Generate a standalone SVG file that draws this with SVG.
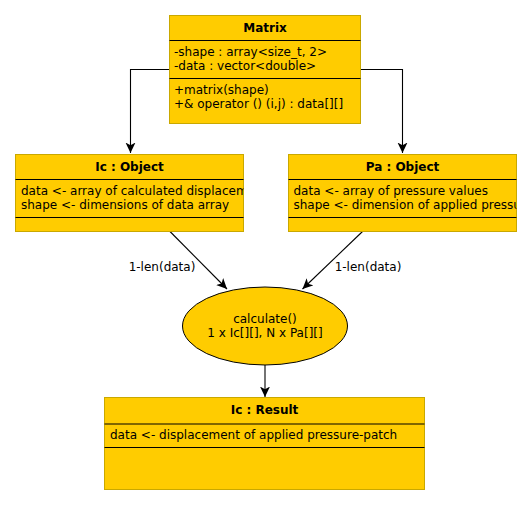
<svg xmlns="http://www.w3.org/2000/svg" width="532" height="505" viewBox="0 0 532 505">
<style>
.box{fill:#ffcc00;stroke:#c9a800;stroke-width:1}
.sep{stroke:#000;stroke-width:1}
text{font-family:"DejaVu Sans",sans-serif;font-size:12px;fill:#000}
.t{font-weight:bold;text-anchor:middle}
.c{text-anchor:middle}
.e{fill:none;stroke:#000;stroke-width:1.1}
</style>
<defs>
<marker id="arr" markerWidth="12" markerHeight="12" refX="10.5" refY="5" orient="auto" markerUnits="userSpaceOnUse">
<path d="M0,0 L10.5,5 L0,10 L2.8,5 Z" fill="#000"/>
</marker>
<clipPath id="clipIc"><rect x="15.5" y="154" width="228" height="77"/></clipPath>
<clipPath id="clipPa"><rect x="288.5" y="154" width="228" height="77"/></clipPath>
</defs>
<g id="connectors">
<path class="e" d="M170,69.5 H130.5 V153" marker-end="url(#arr)"/>
<path class="e" d="M360,69.5 H402.5 V153" marker-end="url(#arr)"/>
<path class="e" d="M170,231.5 L227,289" marker-end="url(#arr)"/>
<path class="e" d="M362.5,231.5 L302.5,289" marker-end="url(#arr)"/>
<path class="e" d="M265,365 V397" marker-end="url(#arr)"/>
<text x="162" y="271" class="c">1-len(data)</text>
<text x="368" y="271" class="c">1-len(data)</text>
</g>
<g id="matrix">
<rect class="box" x="169.5" y="15.5" width="191" height="108"/>
<line class="sep" x1="169.5" y1="40.5" x2="360.5" y2="40.5"/>
<line class="sep" x1="169.5" y1="78.5" x2="360.5" y2="78.5"/>
<text x="265" y="31.5" class="t">Matrix</text>
<text x="174" y="56">-shape : array&lt;size_t, 2&gt;</text>
<text x="174" y="69.5">-data : vector&lt;double&gt;</text>
<text x="174" y="93.5">+matrix(shape)</text>
<text x="174" y="107.5">+&amp; operator () (i,j) : data[][]</text>
</g>
<g id="ic-object">
<rect class="box" x="15.5" y="154.5" width="228" height="77"/>
<line class="sep" x1="15.5" y1="179.5" x2="243.5" y2="179.5"/>
<line class="sep" x1="15.5" y1="217.5" x2="243.5" y2="217.5"/>
<text x="129.5" y="171" class="t">Ic : Object</text>
<g clip-path="url(#clipIc)">
<text x="21" y="194.5">data &lt;- array of calculated displacements</text>
<text x="21" y="208.5">shape &lt;- dimensions of data array</text>
</g>
</g>
<g id="pa-object">
<rect class="box" x="288.5" y="154.5" width="228" height="77"/>
<line class="sep" x1="288.5" y1="179.5" x2="516.5" y2="179.5"/>
<line class="sep" x1="288.5" y1="217.5" x2="516.5" y2="217.5"/>
<text x="402.5" y="171" class="t">Pa : Object</text>
<g clip-path="url(#clipPa)">
<text x="293.5" y="194.5">data &lt;- array of pressure values</text>
<text x="293.5" y="208.5">shape &lt;- dimension of applied pressure-patch</text>
</g>
</g>
<g id="calculate">
<ellipse cx="265" cy="326" rx="82.5" ry="39" fill="#ffcc00" stroke="#000" stroke-width="1"/>
<text x="265" y="322.5" class="c">calculate()</text>
<text x="265" y="336.5" class="c">1 x Ic[][], N x Pa[][]</text>
</g>
<g id="ic-result">
<rect class="box" x="104.5" y="397.5" width="320" height="92"/>
<line class="sep" x1="104.5" y1="424" x2="424.5" y2="424"/>
<line class="sep" x1="104.5" y1="447.5" x2="424.5" y2="447.5"/>
<text x="264.5" y="414" class="t">Ic : Result</text>
<text x="110" y="438.5">data &lt;- displacement of applied pressure-patch</text>
</g>
</svg>
